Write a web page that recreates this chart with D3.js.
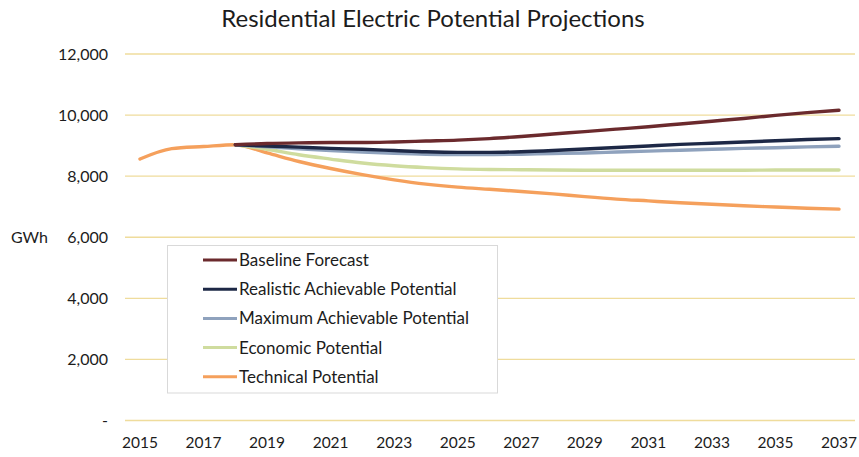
<!DOCTYPE html>
<html><head><meta charset="utf-8">
<script src="https://cdn.jsdelivr.net/npm/d3@7"></script>
<style>
html,body{margin:0;padding:0;background:#fff;}
svg text{font-family:Lato,"Open Sans",sans-serif;fill:#1c1c1c;}
</style></head>
<body><svg id="c" width="859" height="457"></svg>
<script>
const years = d3.range(2015, 2038);
const yTicks = [0, 2000, 4000, 6000, 8000, 10000, 12000];
const xTicks = [2015, 2017, 2019, 2021, 2023, 2025, 2027, 2029, 2031, 2033, 2035, 2037];
const seriesNames = ["Baseline Forecast", "Realistic Achievable Potential", "Maximum Achievable Potential", "Economic Potential", "Technical Potential"];
const seriesColors = ["#6b2a2d", "#1d2846", "#8fa2bd", "#cfdc9e", "#f5a05c"];
const baseline  = [null, null, null, 9030, 9070, 9090, 9100, 9100, 9120, 9150, 9180, 9230, 9300, 9380, 9460, 9540, 9620, 9710, 9800, 9890, 9990, 10080, 10160];
const realistic = [null, null, null, 9030, 8990, 8950, 8910, 8880, 8840, 8800, 8780, 8780, 8800, 8840, 8890, 8940, 8990, 9040, 9080, 9120, 9160, 9200, 9230];
const maximum   = [null, null, null, 9030, 8960, 8900, 8840, 8790, 8750, 8720, 8710, 8710, 8720, 8740, 8760, 8790, 8820, 8850, 8880, 8910, 8930, 8960, 8980];
const economic  = [null, null, null, 9030, 8880, 8700, 8560, 8430, 8340, 8280, 8240, 8220, 8210, 8200, 8195, 8195, 8195, 8195, 8195, 8195, 8200, 8200, 8200];
const technical = [8560, 8900, 8970, 9030, 8760, 8480, 8250, 8050, 7880, 7740, 7640, 7570, 7500, 7420, 7330, 7250, 7190, 7130, 7080, 7030, 6990, 6950, 6920];
const seriesValues = [baseline, realistic, maximum, economic, technical];

const svg = d3.select("#c");
const x = d3.scaleLinear().domain([2015, 2037]).range([140, 839]);
const y = d3.scaleLinear().domain([0, 12000]).range([420.5, 54]);

// title
svg.append("text").attr("x", 433).attr("y", 27).attr("text-anchor", "middle")
  .style("font-size", "24px").text("Residential Electric Potential Projections");

// gridlines
const g = svg.append("g");
g.selectAll("line.grid").data(yTicks).join("line")
  .attr("x1", 125).attr("x2", 855)
  .attr("y1", d => y(d)).attr("y2", d => y(d))
  .attr("stroke", "#efdc9c").attr("stroke-width", 1.3);

// y labels
svg.selectAll("text.yl").data(yTicks).join("text")
  .attr("x", 108).attr("y", d => y(d) + 5.5).attr("text-anchor", "end")
  .style("font-size", "16px")
  .text(d => d === 0 ? "-" : d3.format(",")(d));
svg.append("text").attr("x", 11).attr("y", y(6000) + 5.5).style("font-size", "16px").text("GWh");

// x labels
svg.selectAll("text.xl").data(xTicks).join("text")
  .attr("x", d => x(d)).attr("y", 448).attr("text-anchor", "middle")
  .style("font-size", "15.5px").text(d => d);

// lines (draw technical first)
const line = d3.line().defined(d => d[1] != null)
  .x(d => x(d[0])).y(d => y(d[1])).curve(d3.curveMonotoneX);
for (let i = seriesValues.length - 1; i >= 0; i--) {
  svg.append("path")
    .datum(years.map((yr, j) => [yr, seriesValues[i][j]]))
    .attr("fill", "none").attr("stroke", seriesColors[i])
    .attr("stroke-width", 3.4).attr("stroke-linecap", "round")
    .attr("d", line);
}

// legend
const lg = svg.append("g");
lg.append("rect").attr("x", 167.5).attr("y", 245.5).attr("width", 330).attr("height", 147.5)
  .attr("fill", "#fff").attr("stroke", "#d9d9d9").attr("stroke-width", 1);
seriesNames.forEach((n, i) => {
  const yy = 260 + i * 29.2;
  lg.append("line").attr("x1", 203).attr("x2", 237).attr("y1", yy).attr("y2", yy)
    .attr("stroke", seriesColors[i]).attr("stroke-width", 3);
  lg.append("text").attr("x", 239).attr("y", yy + 6).style("font-size", "17px").text(n);
});
</script></body></html>
